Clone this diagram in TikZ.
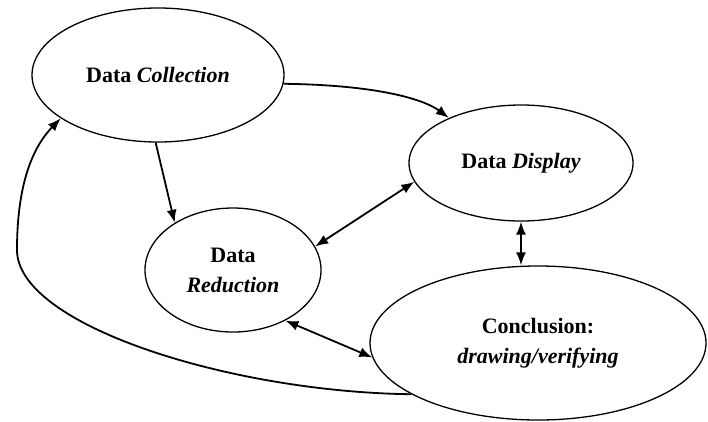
\documentclass[tikz,border=0pt]{standalone}
\usepackage{fontspec}
\setmainfont{Liberation Serif}
\usetikzlibrary{shapes.geometric,arrows.meta}
\tikzset{
  stage/.style={draw,ellipse,line width=1.3pt,inner sep=0pt,align=center,
    font=\fontsize{22}{30}\selectfont\bfseries},
  flow/.style={line width=1.8pt,-{Latex[length=13pt,width=10pt]}},
  both/.style={line width=1.8pt,{Latex[length=13pt,width=10pt]}-{Latex[length=13pt,width=10pt]}}
}
\begin{document}
\begin{tikzpicture}[x=1pt,y=-1pt]
    \useasboundingbox (0,0) rectangle (708,421);
    \node[stage,minimum width=252pt,minimum height=134pt] (coll) at (158,75) {Data \textit{Collection}};
    \node[stage,minimum width=224pt,minimum height=116pt] (disp) at (521,163) {Data \textit{Display}};
    \node[stage,minimum width=176pt,minimum height=124pt] (red) at (233,270) {Data\\\textit{Reduction}};
    \node[stage,minimum width=336pt,minimum height=154pt] (concl) at (538,343) {Conclusion:\\\textit{drawing/verifying}};
    \draw[flow] (coll.-4) .. controls (380,85) and (425,100) .. (disp.148);
    \draw[flow] (coll.-92) -- (red.141);
    \draw[both] (disp.190) -- (red.16);
    \draw[both] (disp.south) -- (disp.south |- concl.north);
    \draw[both] (red.-44) -- (concl.185);
    \draw[flow] (concl.202) .. controls (230,392) and (17,325) .. (17,250)
        .. controls (17,190) and (30,150) .. (coll.204);
\end{tikzpicture}
\end{document}
